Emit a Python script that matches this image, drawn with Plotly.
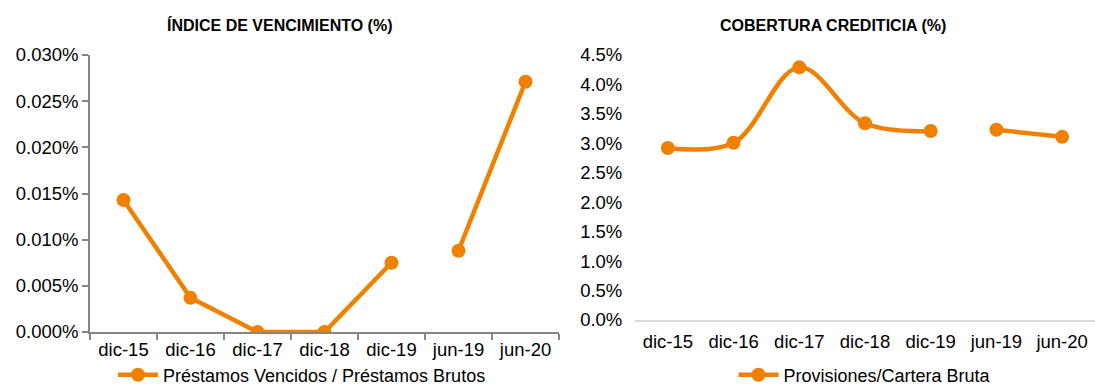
import plotly.graph_objects as go

categories = ["dic-15", "dic-16", "dic-17", "dic-18", "dic-19", "jun-19", "jun-20"]
vencimiento = [0.0143, 0.0037, 0.0, 0.0, 0.0075, 0.0088, 0.0271]
cobertura = [2.92, 3.01, 4.29, 3.34, 3.21, 3.23, 3.11]
left_title = "ÍNDICE DE VENCIMIENTO (%)"
right_title = "COBERTURA CREDITICIA (%)"
left_name = "Préstamos Vencidos / Préstamos Brutos"
right_name = "Provisiones/Cartera Bruta"
split = 5  # line is broken between dic-19 and jun-19

ORANGE = "#F08000"
FONT = "Liberation Sans, Arial, sans-serif"

fig = go.Figure()

for i, (xs, ys) in enumerate([(categories[:split], vencimiento[:split]),
                              (categories[split:], vencimiento[split:])]):
    fig.add_trace(go.Scatter(
        x=xs, y=ys, mode="lines+markers", name=left_name,
        line=dict(color=ORANGE, width=4.5), marker=dict(color=ORANGE, size=14),
        xaxis="x", yaxis="y", legend="legend", showlegend=(i == 0),
        legendgroup="l"))

for i, (xs, ys) in enumerate([(categories[:split], cobertura[:split]),
                              (categories[split:], cobertura[split:])]):
    fig.add_trace(go.Scatter(
        x=xs, y=ys, mode="lines+markers", name=right_name,
        line=dict(color=ORANGE, width=4.5, shape="spline", smoothing=1),
        marker=dict(color=ORANGE, size=14),
        xaxis="x2", yaxis="y2", legend="legend2", showlegend=(i == 0),
        legendgroup="r"))

W, H = 1095, 385
tickfont = dict(family=FONT, size=18.5, color="#000000")
legfont = dict(family=FONT, size=18, color="#000000")

fig.update_layout(
    width=W, height=H,
    margin=dict(l=0, r=0, t=0, b=0, autoexpand=False),
    paper_bgcolor="white", plot_bgcolor="white",
    font=dict(family=FONT, color="#000000"),
    xaxis=dict(domain=[90 / W, 559 / W], type="category",
               categoryorder="array", categoryarray=categories,
               range=[-0.5, 6.5], showline=True, linecolor="#868686",
               linewidth=1.5, ticks="outside", tickson="boundaries",
               ticklen=6, tickcolor="#868686", tickwidth=1.5,
               showgrid=False, zeroline=False, tickfont=tickfont,
               automargin=False),
    yaxis=dict(domain=[1 - 332 / H, 1 - 55 / H], range=[0, 0.030],
               dtick=0.005, tickformat=".3f", ticksuffix="%",
               showline=True, linecolor="#868686", linewidth=1.5,
               ticks="outside", ticklen=6, tickcolor="#868686", tickwidth=1.5,
               showgrid=False, zeroline=False, tickfont=tickfont,
               automargin=False),
    xaxis2=dict(domain=[635 / W, 1.0], type="category",
                categoryorder="array", categoryarray=categories,
                range=[-0.5, 6.5], showline=True, linecolor="#D9D9D9",
                linewidth=2, ticks="outside", ticklen=4, tickcolor="rgba(0,0,0,0)",
                showgrid=False, zeroline=False, tickfont=tickfont,
                anchor="y2", automargin=False),
    yaxis2=dict(domain=[1 - 320 / H, 1 - 55 / H], range=[0, 4.5],
                dtick=0.5, tickformat=".1f", ticksuffix="%",
                showline=False, ticks="outside", ticklen=8,
                tickcolor="rgba(0,0,0,0)", showgrid=False, zeroline=False,
                tickfont=tickfont, anchor="x2", automargin=False),
    legend=dict(x=302 / W, y=1 - 375 / H, xanchor="center", yanchor="middle",
                xref="container", yref="container",
                orientation="h", font=legfont,
                bgcolor="rgba(0,0,0,0)", itemwidth=40),
    legend2=dict(x=865 / W, y=1 - 375 / H, xanchor="center", yanchor="middle",
                 xref="container", yref="container",
                 orientation="h", font=legfont,
                 bgcolor="rgba(0,0,0,0)", itemwidth=40),
    annotations=[
        dict(text="<b>" + left_title + "</b>", x=280 / W, y=1 - 25 / H,
             xref="paper", yref="paper", showarrow=False,
             xanchor="center", yanchor="middle",
             font=dict(family=FONT, size=16, color="#000000")),
        dict(text="<b>" + right_title + "</b>", x=833 / W, y=1 - 25 / H,
             xref="paper", yref="paper", showarrow=False,
             xanchor="center", yanchor="middle",
             font=dict(family=FONT, size=16, color="#000000")),
    ],
)

fig.write_html("out.html")
